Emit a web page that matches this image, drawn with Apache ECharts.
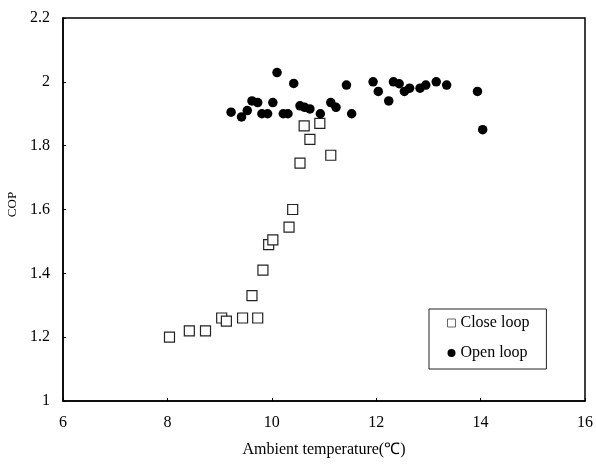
<!DOCTYPE html>
<html><head><meta charset="utf-8">
<script src="https://cdn.jsdelivr.net/npm/echarts@6/dist/echarts.min.js"></script>
<style>html,body{margin:0;padding:0;background:#fff}#c{width:596px;height:464px}</style>
</head><body><div id="c"></div>
<script>
var closeX = [8.04, 8.42, 8.73, 9.04, 9.13, 9.44, 9.73, 9.62, 9.83, 9.94, 10.02, 10.33, 10.40, 10.54, 10.62, 10.73, 10.92, 11.13];
var closeY = [1.20, 1.22, 1.22, 1.26, 1.25, 1.26, 1.26, 1.33, 1.41, 1.49, 1.505, 1.545, 1.60, 1.745, 1.862, 1.82, 1.87, 1.77];
var openX = [9.22, 9.42, 9.53, 9.62, 9.73, 9.81, 9.92, 10.02, 10.10, 10.22, 10.31, 10.42, 10.54, 10.63, 10.73, 10.93, 11.13, 11.23, 11.43, 11.53,
             11.94, 12.04, 12.24, 12.33, 12.44, 12.54, 12.64, 12.84, 12.95, 13.15, 13.35, 13.94, 14.04];
var openY = [1.905, 1.89, 1.91, 1.94, 1.935, 1.90, 1.90, 1.935, 2.029, 1.90, 1.90, 1.995, 1.925, 1.92, 1.915, 1.90, 1.935, 1.92, 1.99, 1.90,
             2.00, 1.97, 1.94, 2.00, 1.994, 1.97, 1.98, 1.98, 1.99, 2.00, 1.99, 1.97, 1.85];
var xTicks = [6, 8, 10, 12, 14, 16];
var yTicks = [1, 1.2, 1.4, 1.6, 1.8, 2, 2.2];

function pairs(xs, ys){ return xs.map(function(x,i){ return [x, ys[i]]; }); }
var font = 'Liberation Serif, Times New Roman, serif';
var chart = echarts.init(document.getElementById('c'));
chart.setOption({
  animation: false,
  backgroundColor: '#fff',
  grid: { left: 63, right: 11, top: 18, bottom: 63, show: true, borderColor: '#000', borderWidth: 1.5,
          containLabel: false, outerBoundsMode: 'none' },
  xAxis: {
    type: 'value', min: xTicks[0], max: xTicks[xTicks.length-1], interval: 2,
    name: 'Ambient temperature(\u2103)', nameLocation: 'middle', nameGap: 41,
    nameTextStyle: { fontFamily: font, fontSize: 16, color: '#000' },
    axisLine: { show: true, lineStyle: { color: '#000', width: 1.5 } },
    axisTick: { show: true, inside: true, length: 3, lineStyle: { color: '#000' } },
    axisLabel: { fontFamily: font, fontSize: 16, color: '#000', margin: 14, formatter: function(v){ return String(v); } },
    splitLine: { show: false }
  },
  yAxis: {
    type: 'value', min: yTicks[0], max: yTicks[yTicks.length-1], interval: 0.2,
    name: 'COP', nameLocation: 'middle', nameGap: 42, nameRotate: 90,
    nameTextStyle: { fontFamily: font, fontSize: 13, color: '#000', padding: [0, 0, 0, 10] },
    axisLine: { show: true, lineStyle: { color: '#000', width: 1.5 } },
    axisTick: { show: true, inside: true, length: 3, lineStyle: { color: '#000' } },
    axisLabel: { fontFamily: font, fontSize: 16, color: '#000', margin: 13,
      formatter: function(v){ return String(Math.round(v*10)/10); } },
    splitLine: { show: false }
  },
  legend: {
    orient: 'vertical', left: 429, top: 309,
    padding: [6, 17, 8, 18], itemGap: 14,
    borderColor: '#222', borderWidth: 1,
    itemWidth: 8, itemHeight: 8,
    textStyle: { fontFamily: font, fontSize: 16, color: '#000' },
    data: [
      { name: 'Close loop', icon: 'rect', itemStyle: { color: '#fff', borderColor: '#666', borderWidth: 1 } },
      { name: 'Open loop', icon: 'circle', itemStyle: { color: '#000' } }
    ]
  },
  series: [
    { name: 'Close loop', type: 'scatter', symbol: 'rect', symbolSize: 10,
      itemStyle: { color: '#fff', borderColor: '#222', borderWidth: 1.2, opacity: 1 },
      data: pairs(closeX, closeY) },
    { name: 'Open loop', type: 'scatter', symbol: 'circle', symbolSize: 9.5,
      itemStyle: { color: '#000', opacity: 1 },
      data: pairs(openX, openY) }
  ]
});
</script></body></html>
